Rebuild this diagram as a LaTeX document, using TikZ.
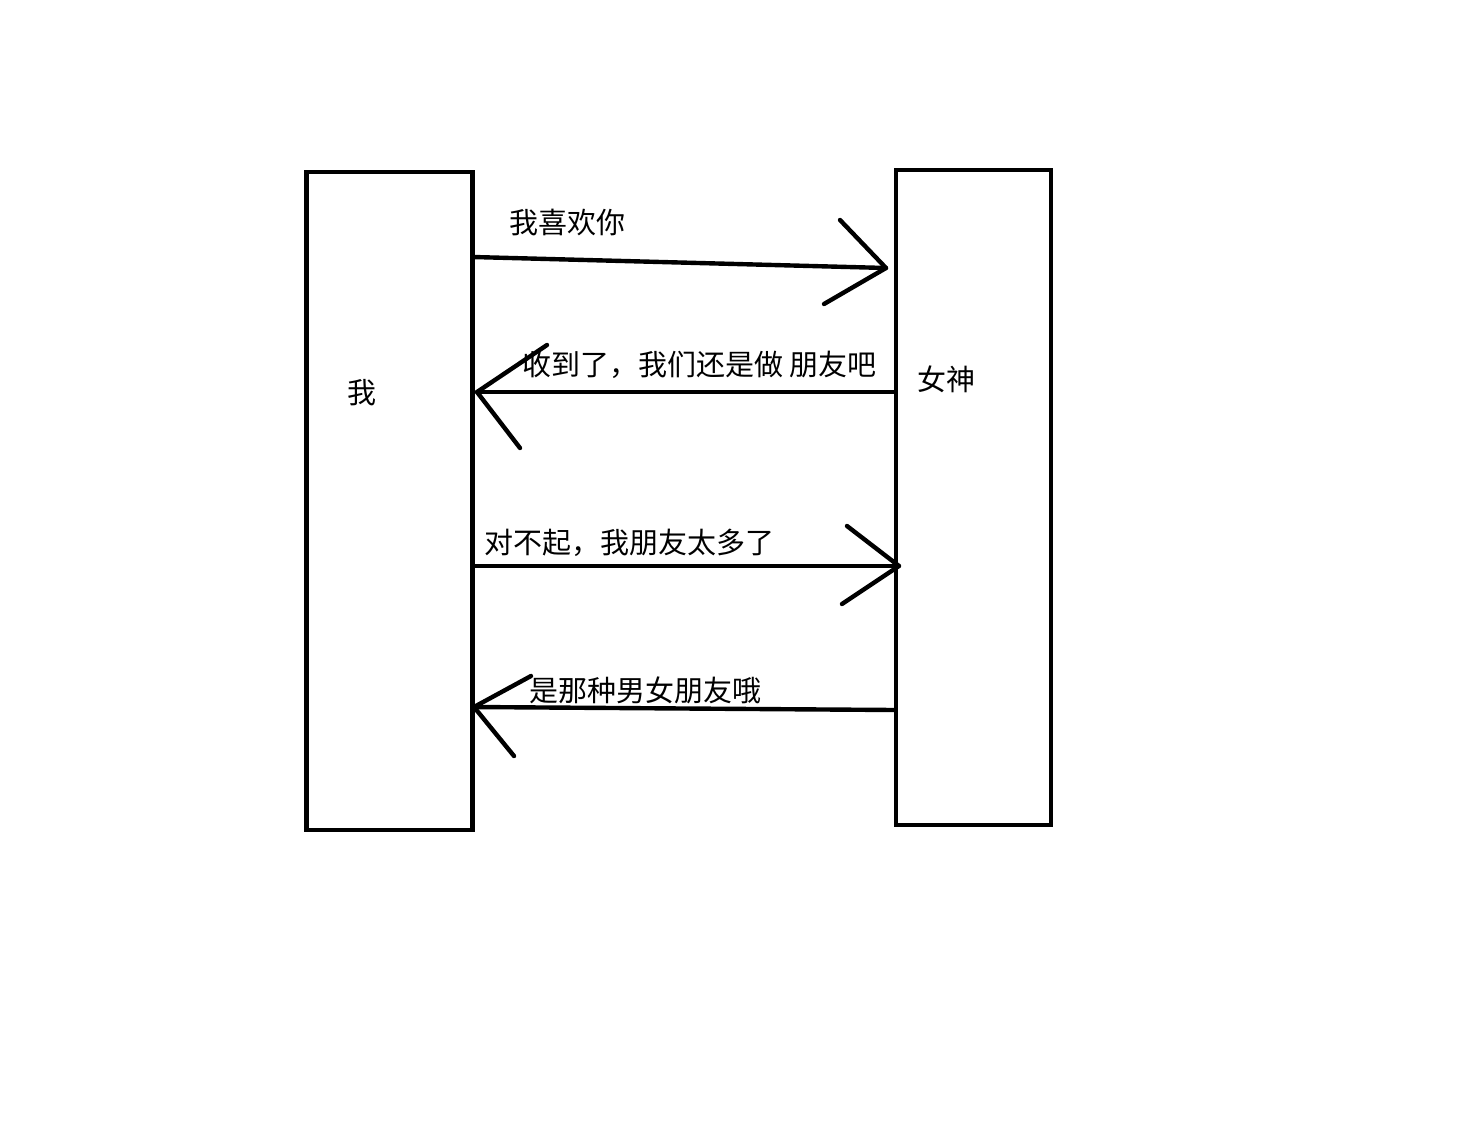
\documentclass[tikz,border=0pt]{standalone}
\usepackage{fontspec}
\newfontfamily\cjk{Noto Sans CJK SC}
\begin{document}
\begin{tikzpicture}[x=1pt,y=-1pt,
  box/.style={draw=black,line width=4.6pt,rectangle,inner sep=0pt},
  conn/.style={draw=black,line width=4.4pt,line cap=round,line join=round},
  lbl/.style={font=\cjk\fontsize{29}{34}\selectfont,inner sep=0pt,anchor=west,text=black}]
\useasboundingbox[fill=white] (0,0) rectangle (1474,1122);
% boxes
\node[box,minimum width=166pt,minimum height=658pt] (me) at (389.5,501) {};
\node[box,minimum width=155pt,minimum height=655pt] (she) at (973.5,497.5) {};
\node[lbl,anchor=center] (meT) at (362,393) {我};
\node[lbl,anchor=center] (sheT) at (946,379) {女神};
% arrow 1
\coordinate (a1s) at (473,257);
\coordinate (a1e) at (886,268);
\coordinate (h1a) at (840,220);
\coordinate (h1b) at (824,304);
\draw[conn] (a1s) -- (a1e);
\draw[conn] (h1a) -- (a1e) -- (h1b);
\node[lbl] (t1) at (509,223) {我喜欢你};
% arrow 2
\coordinate (a2s) at (895,392);
\coordinate (a2e) at (477,392);
\coordinate (h2a) at (547,345);
\coordinate (h2b) at (520,448);
\draw[conn] (a2s) -- (a2e);
\draw[conn] (h2a) -- (a2e) -- (h2b);
\node[lbl] (t2) at (522,365) {收到了，我们还是做 朋友吧};
% arrow 3
\coordinate (a3s) at (473,566);
\coordinate (a3e) at (899,566);
\coordinate (h3a) at (847,526);
\coordinate (h3b) at (842,604);
\draw[conn] (a3s) -- (a3e);
\draw[conn] (h3a) -- (a3e) -- (h3b);
\node[lbl] (t3) at (484,543) {对不起，我朋友太多了};
% arrow 4
\coordinate (a4s) at (895,710);
\coordinate (a4e) at (474,707);
\coordinate (h4a) at (531,676);
\coordinate (h4b) at (514,756);
\draw[conn] (a4s) -- (a4e);
\draw[conn] (h4a) -- (a4e) -- (h4b);
\node[lbl] (t4) at (529,690) {是那种男女朋友哦};
\end{tikzpicture}
\end{document}
